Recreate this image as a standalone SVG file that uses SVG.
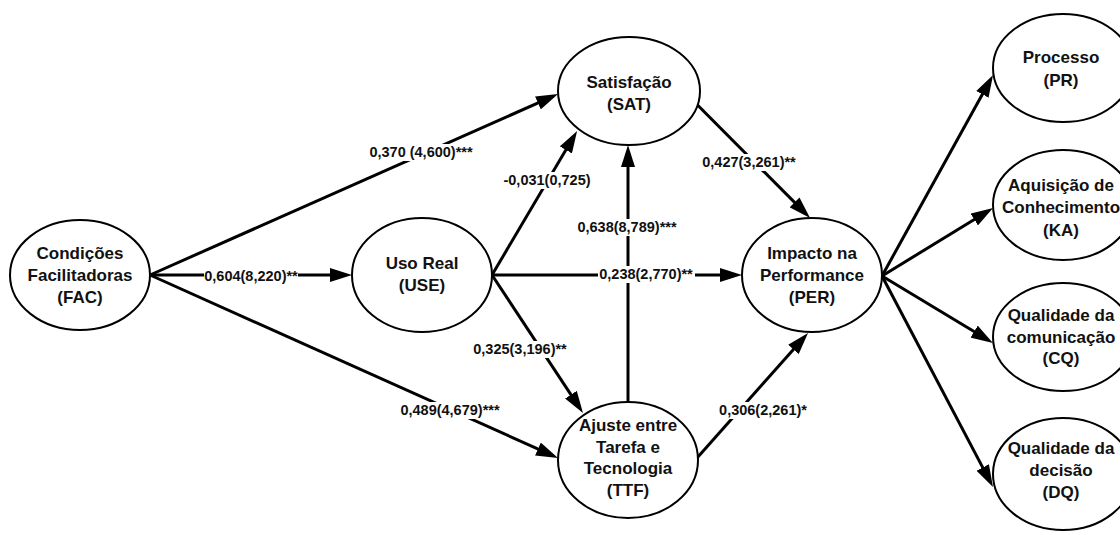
<svg xmlns="http://www.w3.org/2000/svg" width="1120" height="535" viewBox="0 0 1120 535">
  <style>
    .node ellipse { fill: #ffffff; stroke: #000000; stroke-width: 2; }
    .node text { font-family: "Liberation Sans", Arial, sans-serif; font-size: 17px; font-weight: bold; fill: #111111; text-anchor: middle; }
    .edge { stroke: #000000; stroke-width: 3; fill: none; marker-end: url(#arrow); }
    .lbl rect { fill: #ffffff; }
    .lbl text { font-family: "Liberation Sans", Arial, sans-serif; font-size: 14.5px; font-weight: bold; fill: #111111; text-anchor: middle; }
  </style>
  <defs>
    <marker id="arrow" markerUnits="userSpaceOnUse" markerWidth="22" markerHeight="14" refX="12" refY="7" orient="auto">
      <path d="M0,0 L22,7 L0,14 z" fill="#000000"/>
    </marker>
  </defs>
  <rect width="1120" height="535" fill="#ffffff"/>

  <!-- connectors -->
  <g id="connectors">
    <line class="edge" x1="150" y1="275" x2="342" y2="275"/>
    <line class="edge" x1="150" y1="275" x2="548.9" y2="98.1"/>
    <line class="edge" x1="150" y1="275" x2="548.9" y2="453.9"/>
    <line class="edge" x1="492" y1="275" x2="572" y2="139.6"/>
    <line class="edge" x1="492" y1="275" x2="732" y2="275"/>
    <line class="edge" x1="492" y1="275" x2="577.5" y2="404.7"/>
    <line class="edge" x1="628" y1="402" x2="628" y2="155"/>
    <line class="edge" x1="697.5" y1="105" x2="803" y2="210.9"/>
    <line class="edge" x1="697" y1="458" x2="801.4" y2="340.5"/>
    <line class="edge" x1="882" y1="276" x2="988.2" y2="83.8"/>
    <line class="edge" x1="882" y1="276" x2="984.5" y2="213.2"/>
    <line class="edge" x1="882" y1="276" x2="984.4" y2="337.8"/>
    <line class="edge" x1="882" y1="276" x2="988.3" y2="478.1"/>

    <!-- path coefficients -->
    <g class="lbl"><rect x="204" y="268" width="94" height="17"/><text x="251" y="281">0,604(8,220)**</text></g>
    <g class="lbl"><rect x="364" y="144" width="114" height="17"/><text x="421" y="157">0,370 (4,600)***</text></g>
    <g class="lbl"><rect x="498" y="172" width="98" height="17"/><text x="547" y="185">-0,031(0,725)</text></g>
    <g class="lbl"><rect x="576" y="219" width="103" height="17"/><text x="627" y="232">0,638(8,789)***</text></g>
    <g class="lbl"><rect x="598" y="266" width="97" height="17"/><text x="646" y="279">0,238(2,770)**</text></g>
    <g class="lbl"><rect x="701" y="154" width="97" height="17"/><text x="749" y="167">0,427(3,261)**</text></g>
    <g class="lbl"><rect x="472" y="341" width="97" height="17"/><text x="520" y="354">0,325(3,196)**</text></g>
    <g class="lbl"><rect x="399" y="402" width="103" height="17"/><text x="450" y="415">0,489(4,679)***</text></g>
    <g class="lbl"><rect x="717" y="402" width="92" height="17"/><text x="763" y="415">0,306(2,261)*</text></g>
  </g>

  <!-- constructs -->
  <g id="FAC" class="node">
    <ellipse cx="80" cy="275" rx="70" ry="55"/>
    <text x="80" y="259">Condições</text>
    <text x="80" y="281">Facilitadoras</text>
    <text x="80" y="303">(FAC)</text>
  </g>
  <g id="USE" class="node">
    <ellipse cx="422" cy="275" rx="70" ry="57"/>
    <text x="422" y="269">Uso Real</text>
    <text x="422" y="291">(USE)</text>
  </g>
  <g id="SAT" class="node">
    <ellipse cx="629" cy="91" rx="71" ry="54"/>
    <text x="629" y="88">Satisfação</text>
    <text x="629" y="110">(SAT)</text>
  </g>
  <g id="TTF" class="node">
    <ellipse cx="628" cy="460" rx="70" ry="58"/>
    <text x="628" y="431">Ajuste entre</text>
    <text x="628" y="453">Tarefa e</text>
    <text x="628" y="474">Tecnologia</text>
    <text x="628" y="496">(TTF)</text>
  </g>
  <g id="PER" class="node">
    <ellipse cx="812" cy="275" rx="70" ry="57"/>
    <text x="812" y="259">Impacto na</text>
    <text x="812" y="281">Performance</text>
    <text x="812" y="303">(PER)</text>
  </g>
  <g id="PR" class="node">
    <ellipse cx="1063" cy="68" rx="70" ry="54"/>
    <text x="1061" y="63">Processo</text>
    <text x="1061" y="86">(PR)</text>
  </g>
  <g id="KA" class="node">
    <ellipse cx="1063" cy="205" rx="70" ry="55"/>
    <text x="1061" y="191">Aquisição de</text>
    <text x="1061" y="213">Conhecimento</text>
    <text x="1061" y="236">(KA)</text>
  </g>
  <g id="CQ" class="node">
    <ellipse cx="1063" cy="337" rx="70" ry="54"/>
    <text x="1061" y="321">Qualidade da</text>
    <text x="1061" y="343">comunicação</text>
    <text x="1061" y="364">(CQ)</text>
  </g>
  <g id="DQ" class="node">
    <ellipse cx="1063" cy="474" rx="70" ry="56"/>
    <text x="1061" y="454">Qualidade da</text>
    <text x="1061" y="476">decisão</text>
    <text x="1061" y="498">(DQ)</text>
  </g>
</svg>
